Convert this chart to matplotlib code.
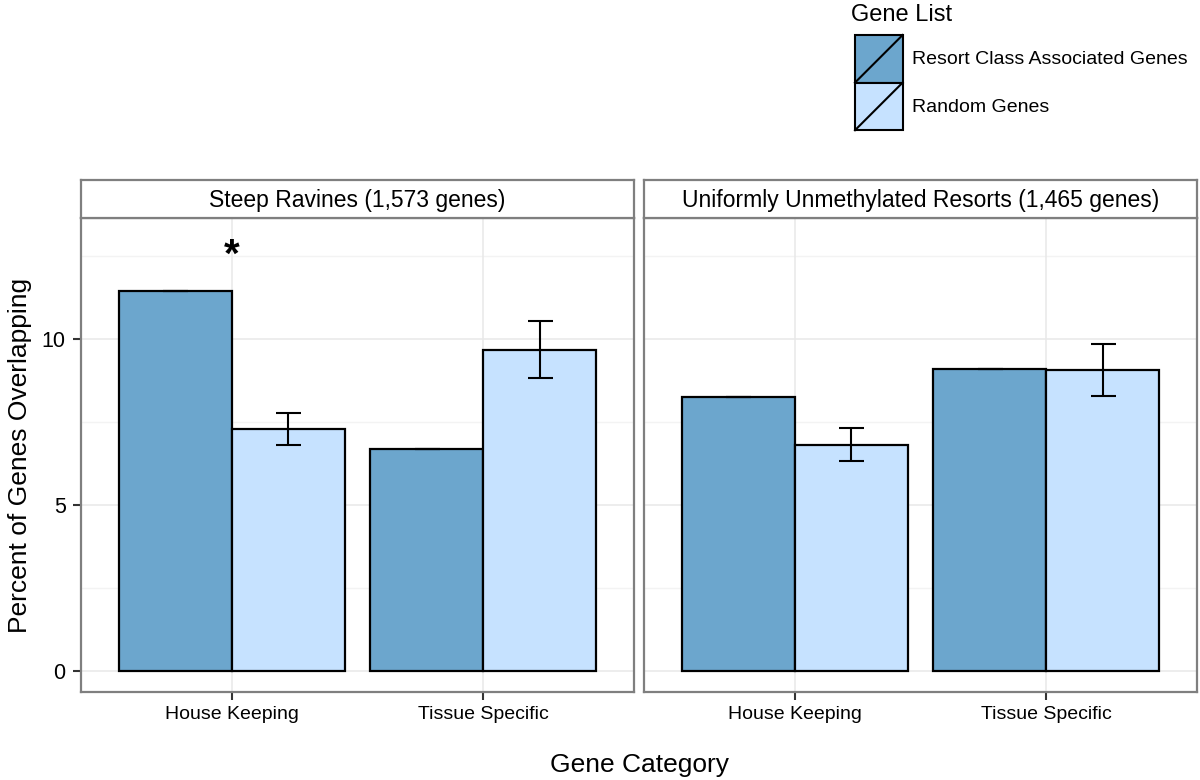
import matplotlib.pyplot as plt
from matplotlib.patches import Patch, Rectangle
from matplotlib.lines import Line2D
from matplotlib.legend_handler import HandlerBase
import numpy as np

plt.rcParams['font.family'] = ['Liberation Sans', 'DejaVu Sans']

# Data
categories = ['House Keeping', 'Tissue Specific']
panels = ['Steep Ravines (1,573 genes)', 'Uniformly Unmethylated Resorts (1,465 genes)']
series = ['Resort Class Associated Genes', 'Random Genes']
resort_vals = [[11.45, 6.70], [8.25, 9.08]]
random_vals = [[7.28, 9.67], [6.81, 9.07]]
random_lo = [[6.81, 8.83], [6.33, 8.28]]
random_hi = [[7.77, 10.55], [7.32, 9.85]]
star_panel, star_y = 0, 12.5

dark = '#6CA6CD'
light = '#C6E2FF'
border = '#7F7F7F'
W, H = 1200, 780


class KeyHandler(HandlerBase):
    # square key with a diagonal stroke, like ggplot's bar legend
    def create_artists(self, legend, orig_handle, xdescent, ydescent,
                       width, height, fontsize, trans):
        x0, y0 = -xdescent, -ydescent
        r = Rectangle((x0, y0), width, height, facecolor=orig_handle.get_facecolor(),
                      edgecolor='black', lw=1.5, transform=trans)
        l = Line2D([x0, x0 + width], [y0, y0 + height], color='black', lw=1.5,
                   transform=trans)
        return [r, l]


fig = plt.figure(figsize=(12, 7.8), dpi=100)

panel_x = [81, 644]
panel_w = 553
top, bottom, strip_top = 218, 692, 180
x = np.arange(1, len(categories) + 1)
bw = 0.45

for p in range(2):
    ax = fig.add_axes([panel_x[p] / W, 1 - bottom / H, panel_w / W, (bottom - top) / H])
    ax.set_xlim(0.4, 2.6)
    ax.set_ylim(-0.63, 13.64)
    # grid
    for yv in [2.5, 7.5, 12.5]:
        ax.axhline(yv, color='#F3F3F3', lw=1, zorder=0)
    for yv in [0, 5, 10]:
        ax.axhline(yv, color='#E8E8E8', lw=1.1, zorder=0)
    for xv in x:
        ax.axvline(xv, color='#E8E8E8', lw=1.1, zorder=0)

    ax.bar(x - bw / 2, resort_vals[p], width=bw, color=dark, edgecolor='black',
           lw=1.6, zorder=2)
    ax.bar(x + bw / 2, random_vals[p], width=bw, color=light, edgecolor='black',
           lw=1.6, zorder=2)
    ax.errorbar(x - bw / 2, resort_vals[p], yerr=0, fmt='none', ecolor='black',
                elinewidth=1.5, capsize=9, capthick=1.5, zorder=3)
    lo = np.array(random_vals[p]) - np.array(random_lo[p])
    hi = np.array(random_hi[p]) - np.array(random_vals[p])
    ax.errorbar(x + bw / 2, random_vals[p], yerr=[lo, hi], fmt='none', ecolor='black',
                elinewidth=1.5, capsize=9, capthick=1.5, zorder=3)

    if p == star_panel:
        ax.text(x[0], star_y, '*', ha='center', va='center', fontsize=29,
                fontweight='bold')

    for s in ax.spines.values():
        s.set_color(border)
        s.set_linewidth(1.6)
    ax.set_xticks(x)
    ax.set_xticklabels(categories, fontsize=14)
    ax.tick_params(axis='x', length=6, width=1.5, color='#333333', pad=4)
    if p == 0:
        ax.set_yticks([0, 5, 10])
        ax.set_yticklabels(['0', '5', '10'], fontsize=15.5)
        ax.tick_params(axis='y', length=6, width=1.5, color='#333333', pad=5)
        ax.set_ylabel('Percent of Genes Overlapping', fontsize=19, labelpad=7)
    else:
        ax.set_yticks([])

    # facet strip
    sa = fig.add_axes([panel_x[p] / W, 1 - top / H, panel_w / W, (top - strip_top) / H])
    sa.set_xticks([])
    sa.set_yticks([])
    for s in sa.spines.values():
        s.set_color(border)
        s.set_linewidth(1.6)
    sa.text(0.5, 0.47, panels[p], ha='center', va='center', fontsize=16.5,
            transform=sa.transAxes)

fig.text(639 / W, 1 - 765 / H, 'Gene Category', ha='center', va='center', fontsize=19)

# legend: title as text, keys stacked below
fig.text(851 / W, 1 - 21 / H, 'Gene List', ha='left', va='baseline', fontsize=17)
handles = [Patch(facecolor=dark), Patch(facecolor=light)]
leg = fig.legend(handles, series, loc='upper left', bbox_to_anchor=(855 / W, 1 - 35 / H),
                 handler_map={Patch: KeyHandler()}, frameon=False, fontsize=14,
                 handlelength=2.45, handleheight=3.39, labelspacing=0,
                 handletextpad=0.5, borderpad=0, borderaxespad=0)

fig.savefig('out.png', dpi=100)
